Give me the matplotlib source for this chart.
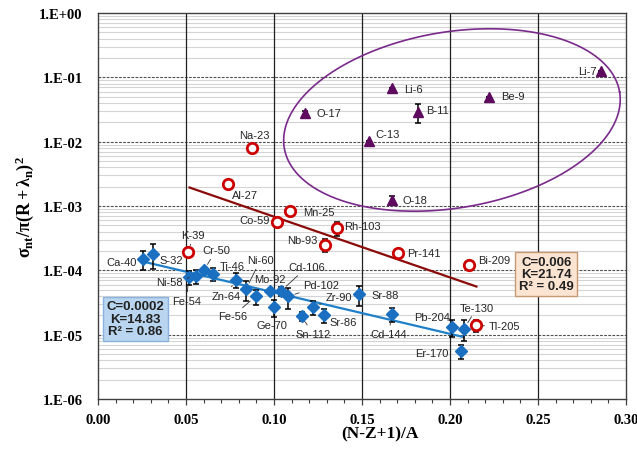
import numpy as np
import matplotlib
matplotlib.use("Agg")
import matplotlib.pyplot as plt
from matplotlib.ticker import FixedLocator, FuncFormatter, NullFormatter

plt.rcParams['font.family'] = ['Liberation Sans', 'DejaVu Sans']
plt.rcParams['mathtext.fontset'] = 'custom'
plt.rcParams['mathtext.rm'] = 'Liberation Serif:bold'
plt.rcParams['mathtext.it'] = 'Liberation Serif:bold'
plt.rcParams['mathtext.bf'] = 'Liberation Serif:bold'

# ---------------- data ----------------
# light nuclei (purple triangles)
light_names = ["Li-7", "Li-6", "Be-9", "B-11", "O-17", "C-13", "O-18"]
light_x = [0.286, 0.1669, 0.2224, 0.182, 0.1176, 0.154, 0.167]
light_y = [0.127, 0.0676, 0.049, 0.0287, 0.028, 0.0104, 0.00122]
light_err = [0.0, 0.0, 0.0, 0.0093, 0.002, 0.0, 0.0002]

# red open circles
red_names = ["Na-23", "Al-27", "Mn-25", "Co-59", "Rh-103", "Nb-93", "Pr-141",
             "K-39", "Bi-209", "Tl-205"]
red_x = [0.0873, 0.0740, 0.109, 0.1015, 0.136, 0.129, 0.1706, 0.0513, 0.2108, 0.2146]
red_y = [7.9e-3, 2.16e-3, 8.5e-4, 5.7e-4, 4.5e-4, 2.5e-4, 1.88e-4, 1.92e-4, 1.22e-4, 1.39e-5]
red_err = [0.0, 0.0, 0.0, 5e-5, 1.1e-4, 5.5e-5, 0.0, 1.5e-5, 0.0, 3e-6]

# blue diamonds
blue_names = ["Ca-40", "S-32", "Fe-54", "Ni-58", "Cr-50", "Ti-46", "Zn-64", "Ni-60",
              "Fe-56", "Mo-92", "Ge-70", "Cd-106", "Pd-102", "Sn-112", "Zr-90",
              "Sr-86", "Sr-88", "Cd-144", "Pb-204", "Te-130", "Er-170"]
blue_x = [0.0254, 0.0314, 0.0515, 0.0557, 0.0602, 0.0655, 0.0784, 0.0841,
          0.0895, 0.0977, 0.1000, 0.1040, 0.1081, 0.1157, 0.1223,
          0.1284, 0.1483, 0.1669, 0.2013, 0.2080, 0.2063]
blue_y = [1.51e-4, 1.79e-4, 7.87e-5, 8.15e-5, 1.0e-4, 8.85e-5, 7.15e-5, 5.09e-5,
          3.93e-5, 4.7e-5, 2.69e-5, 4.77e-5, 3.93e-5, 1.95e-5, 2.69e-5,
          2.01e-5, 4.22e-5, 2.07e-5, 1.32e-5, 1.24e-5, 5.5e-6]
blue_err = [4.9e-5, 7.5e-5, 2.0e-5, 2.0e-5, 1.0e-5, 2.0e-5, 1.8e-5, 1.7e-5,
            1.0e-5, 0.0, 8e-6, 8e-6, 1.4e-5, 3e-6, 7e-6,
            5e-6, 1.4e-5, 5e-6, 4e-6, 4.3e-6, 1.3e-6]

# exponential fits y = C*exp(-K x)
red_fit = dict(C=0.006, K=21.74, R2=0.49, x0=0.052, x1=0.215)
blue_fit = dict(C=0.0002, K=14.83, R2=0.86, x0=0.0254, x1=0.2076)

# x/y axis ticks
x_ticks = [0.00, 0.05, 0.10, 0.15, 0.20, 0.25, 0.30]
y_decades = [-6, -5, -4, -3, -2, -1, 0]

# label placement: name -> (dx px, dy px, ha, leader)
label_pos = {
    "Li-7": (-5, 0, 'right', False), "Li-6": (12, -1, 'left', False),
    "Be-9": (12, 1, 'left', False), "B-11": (8, 2, 'left', False),
    "O-17": (12, 0, 'left', False), "C-13": (6, 7, 'left', False),
    "O-18": (11, 0, 'left', False),
    "Na-23": (3, 13, 'center', False), "Al-27": (4, -11, 'left', False),
    "Mn-25": (13, -1, 'left', False), "Co-59": (-7, 2, 'right', False),
    "Rh-103": (7, 2, 'left', False), "Nb-93": (-8, 5, 'right', False),
    "Pr-141": (9, 0, 'left', False), "K-39": (5, 17, 'center', True),
    "Bi-209": (9, 5, 'left', False), "Tl-205": (13, -1, 'left', True),
    "Ca-40": (-6, -3, 'right', False), "S-32": (6, -6, 'left', False),
    "Fe-54": (-2, -24, 'center', True), "Ni-58": (-13, -6, 'right', True),
    "Cr-50": (-2, 20, 'left', True), "Ti-46": (6, 8, 'left', False),
    "Zn-64": (-10, -16, 'center', True), "Ni-60": (1, 29, 'left', True),
    "Fe-56": (-23, -20, 'center', True), "Mo-92": (0, 12, 'center', False),
    "Ge-70": (-2, -18, 'center', False), "Cd-106": (26, 24, 'center', True),
    "Pd-102": (15, 11, 'left', True), "Sn-112": (11, -18, 'center', True),
    "Zr-90": (12, 10.5, 'left', True), "Sr-86": (6, -7, 'left', False),
    "Sr-88": (12, -1, 'left', False), "Cd-144": (-3, -20, 'center', True),
    "Pb-204": (-2, 10, 'right', False), "Te-130": (13, 21, 'center', True),
    "Er-170": (-13, -2, 'right', False),
}

# ---------------- figure ----------------
W, H = 637, 452
fig = plt.figure(figsize=(W / 100, H / 100), dpi=100)
ax = fig.add_axes([98 / W, (H - 400) / H, 528 / W, 386 / H])
ax.set_xlim(0, 0.30)
ax.set_yscale('log')
ax.set_ylim(1e-6, 1)

# grid
minor_vals = [m * 10.0 ** d for d in y_decades[:-1] for m in range(2, 10)]
for v in minor_vals:
    ax.axhline(v, color='#d4d4d4', lw=0.8, zorder=0)
for d in y_decades[1:-1]:
    ax.axhline(10.0 ** d, color='#505050', lw=0.8, ls=(0, (2.5, 1.2)), zorder=0.5)
for xv in x_ticks[1:-1]:
    ax.axvline(xv, color='#202020', lw=0.9, zorder=0.6)

for s in ax.spines.values():
    s.set_color('#404040')
    s.set_linewidth(1.0)

ax.xaxis.set_major_locator(FixedLocator(x_ticks))
ax.xaxis.set_minor_locator(FixedLocator(np.arange(0, 0.301, 0.01)))
ax.xaxis.set_major_formatter(FuncFormatter(lambda v, p: f"{v:.2f}"))
ax.yaxis.set_major_locator(FixedLocator([10.0 ** d for d in y_decades]))
ax.yaxis.set_minor_locator(FixedLocator([]))
ax.yaxis.set_minor_formatter(NullFormatter())
ax.yaxis.set_major_formatter(FuncFormatter(
    lambda v, p: "1.E%+03d" % int(round(np.log10(v)))))
ax.tick_params(axis='x', which='major', direction='out', length=4, width=0.9,
               color='#404040', pad=6)
ax.tick_params(axis='x', which='minor', direction='out', length=3, width=0.8,
               color='#404040')
ax.tick_params(axis='y', which='both', length=0, pad=11)
for lab in ax.get_xticklabels() + ax.get_yticklabels():
    lab.set_fontfamily('Liberation Serif')
    lab.set_fontweight('bold')
    lab.set_fontsize(10.5)

ax.set_xlabel("(N-Z+1)/A", fontfamily='Liberation Serif', fontweight='bold',
              fontsize=12.5)
ax.xaxis.set_label_coords(0.534, -0.068)
ax.set_ylabel(r"$\sigma_{nt}/\pi(R+\lambda_n)^2$", fontsize=13)
ax.yaxis.set_label_coords(-0.118, 0.5)

# fit lines
for fit, col in [(red_fit, '#8b0a0a'), (blue_fit, '#1f7fc8')]:
    xs = np.linspace(fit['x0'], fit['x1'], 100)
    ax.plot(xs, fit['C'] * np.exp(-fit['K'] * xs), color=col, lw=1.6, zorder=2)

# error bars + markers
eb = dict(fmt='none', ecolor='black', elinewidth=1.1, capsize=2.5, capthick=1.1,
          zorder=3)
ax.errorbar(blue_x, blue_y, yerr=blue_err, **eb)
ax.errorbar(red_x, red_y, yerr=red_err, **eb)
ax.errorbar(light_x, light_y, yerr=light_err, **eb)
ax.plot(blue_x, blue_y, ls='none', marker='D', ms=6.5, mfc='#1a6fc0',
        mec='#1a6fc0', zorder=4)
ax.plot(red_x, red_y, ls='none', marker='o', ms=7.5, mfc='white',
        mec='#cc0000', mew=2.0, zorder=4)
ax.plot(light_x, light_y, ls='none', marker='^', ms=7.5, mfc='#5e0a5e',
        mec='#5e0a5e', zorder=4)

# labels
def put_labels(names, xs, ys):
    for n, x, y in zip(names, xs, ys):
        dx, dy, ha, leader = label_pos[n]
        kw = {}
        if leader:
            kw['arrowprops'] = dict(arrowstyle='-', lw=0.6, color='#303030',
                                    shrinkA=1, shrinkB=5)
        ax.annotate(n, (x, y), xytext=(dx, dy), textcoords='offset pixels',
                    ha=ha, va='center', fontsize=8, color='#262626', zorder=5,
                    **kw)

put_labels(light_names, light_x, light_y)
put_labels(red_names, red_x, red_y)
put_labels(blue_names, blue_x, blue_y)

# ellipse around light nuclei (in display space of the log-linear axes)
ell_center = (0.2011, 10 ** -1.663)
ell_a, ell_b, ell_angle = 170, 88, 9.5
fig.canvas.draw()
cx, cy = ax.transData.transform(ell_center)
t = np.linspace(0, 2 * np.pi, 300)
th = np.deg2rad(ell_angle)
ex = cx + ell_a * np.cos(t) * np.cos(th) - ell_b * np.sin(t) * np.sin(th)
ey = cy + ell_a * np.cos(t) * np.sin(th) + ell_b * np.sin(t) * np.cos(th)
pts = ax.transData.inverted().transform(np.column_stack([ex, ey]))
ax.plot(pts[:, 0], pts[:, 1], color='#7a2a8a', lw=1.2, zorder=2.5)

# fit boxes
ax.text((135.5 - 98) / 528, (400 - 319.7) / 386,
        "C=%.4f\nK=%.2f\nR² = %.2f" % (blue_fit['C'], blue_fit['K'], blue_fit['R2']),
        transform=ax.transAxes, ha='center', va='center', fontsize=9.5,
        fontweight='bold', color='#222222', linespacing=1.05, zorder=6,
        bbox=dict(boxstyle='square,pad=0.28', fc='#b9d5ef', ec='#8ab2dc', lw=1))
ax.text((546.3 - 98) / 528, (400 - 275) / 386,
        "C=%.3f\nK=%.2f\nR² = %.2f" % (red_fit['C'], red_fit['K'], red_fit['R2']),
        transform=ax.transAxes, ha='center', va='center', fontsize=9.5,
        fontweight='bold', color='#222222', linespacing=1.05, zorder=6,
        bbox=dict(boxstyle='square,pad=0.28', fc='#fce4d2', ec='#c49a74', lw=1))

fig.savefig("out.png", dpi=100)
